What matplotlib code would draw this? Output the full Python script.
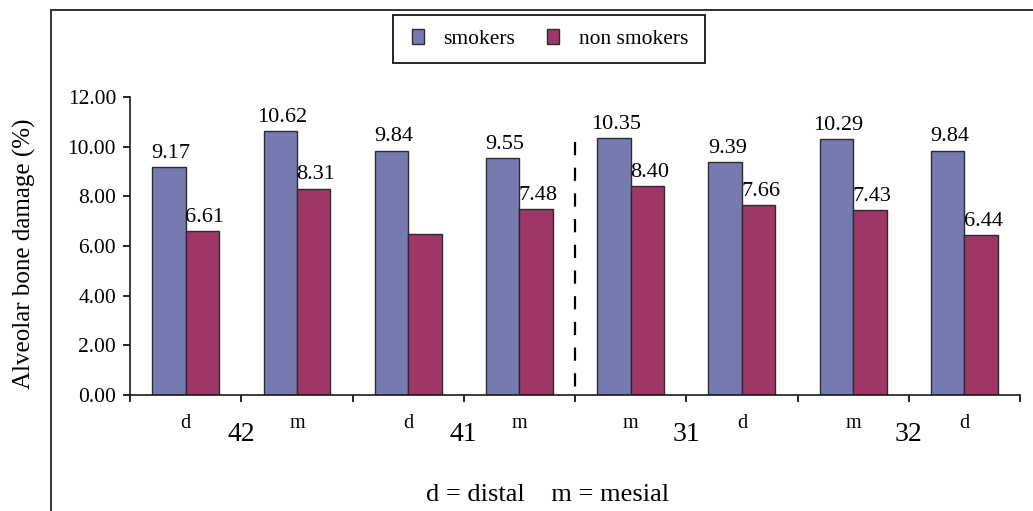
import matplotlib
matplotlib.use("Agg")
import matplotlib.pyplot as plt
from matplotlib.patches import Rectangle
import numpy as np

plt.rcParams['font.family'] = ['Liberation Serif', 'DejaVu Serif']
plt.rcParams['lines.scale_dashes'] = False

# Data: alveolar bone damage (%) per tooth surface
surfaces = ["d", "m", "d", "m", "m", "d", "m", "d"]
teeth = ["42", "41", "31", "32"]
smokers = [9.17, 10.62, 9.84, 9.55, 10.35, 9.39, 10.29, 9.84]
non_smokers = [6.61, 8.31, 6.48, 7.48, 8.40, 7.66, 7.43, 6.44]
non_smokers_labelled = [True, True, False, True, True, True, True, True]
y_ticks = [0, 2, 4, 6, 8, 10, 12]

c_smk = "#7779b1"
c_non = "#9e3766"
edge = "#2b2b2b"

W, H = 1033, 511
fig = plt.figure(figsize=(W / 100, H / 100), dpi=100)

# outer frame (extends past the right and bottom edges)
frame = Rectangle((51 / W, -0.2), 1.2, 1 - 10 / H + 0.2, transform=fig.transFigure,
                  fill=False, edgecolor="#333333", linewidth=1.4, clip_on=False)
fig.add_artist(frame)

ax = fig.add_axes([130 / W, 1 - 395 / H, 890 / W, 298 / H])
n = len(smokers)
x = np.arange(n)
bw = 0.3
b1 = ax.bar(x + 0.35, smokers, bw, color=c_smk, edgecolor=edge, linewidth=1.0, label="smokers")
b2 = ax.bar(x + 0.65, non_smokers, bw, color=c_non, edgecolor=edge, linewidth=1.0, label="non smokers")

for xi, v in zip(x, smokers):
    ax.annotate(f"{v:.2f}", (xi + 0.35, v), xytext=(1.5, 3), textcoords="offset points",
                ha="center", va="bottom", fontsize=16)
for xi, v, lab in zip(x, non_smokers, non_smokers_labelled):
    if lab:
        ax.annotate(f"{v:.2f}", (xi + 0.65, v), xytext=(1.5, 3), textcoords="offset points",
                    ha="center", va="bottom", fontsize=16)

ax.set_xlim(0, n)
ax.set_ylim(0, 12)
ax.set_yticks(y_ticks)
ax.set_yticklabels([f"{t:.2f}" for t in y_ticks], fontsize=15.5)
ax.set_xticks(np.arange(n + 1))
ax.set_xticklabels([])
ax.set_xticks(x + 0.5, minor=True)
ax.set_xticklabels(surfaces, minor=True, fontsize=14.5)
ax.tick_params(axis="x", which="minor", length=0, pad=14)
ax.tick_params(axis="x", which="major", direction="out", length=5, width=1.2)
ax.tick_params(axis="y", direction="out", length=5, width=1.2, pad=5)

for s in ("top", "right"):
    ax.spines[s].set_visible(False)
for s in ("left", "bottom"):
    ax.spines[s].set_linewidth(1.2)
    ax.spines[s].set_color("#1a1a1a")

# tooth numbers between the surface pairs
for i, t in enumerate(teeth):
    ax.text(2 * i + 1, -1.6, t, ha="center", va="center", fontsize=20)

# separator between right and left quadrants (dash pattern starts at the top)
ax.plot([4, 4], [10.2, 0], color="black", linewidth=1.6, dashes=(9.5, 9.0), clip_on=False)

ax.set_ylabel("Alveolar bone damage (%)", fontsize=18)
ax.yaxis.set_label_coords(-94 / 890, 0.473)

fig.text(548 / W, 1 - 495 / H, "d = distal    m = mesial", ha="center", va="center", fontsize=19)

# legend with a square frame drawn separately
leg = fig.legend(handles=[b1, b2], loc="center", bbox_to_anchor=(550 / W, 1 - 39 / H), ncol=2,
                 fontsize=15.5, frameon=False,
                 handlelength=0.56, handleheight=0.7, columnspacing=1.5, handletextpad=0.9,
                 borderpad=0.2, borderaxespad=0)
legbox = Rectangle((393 / W, 1 - 63 / H), 312 / W, 48 / H, transform=fig.transFigure,
                   fill=False, edgecolor="black", linewidth=1.2)
fig.add_artist(legbox)

fig.savefig("out.png", dpi=100)
